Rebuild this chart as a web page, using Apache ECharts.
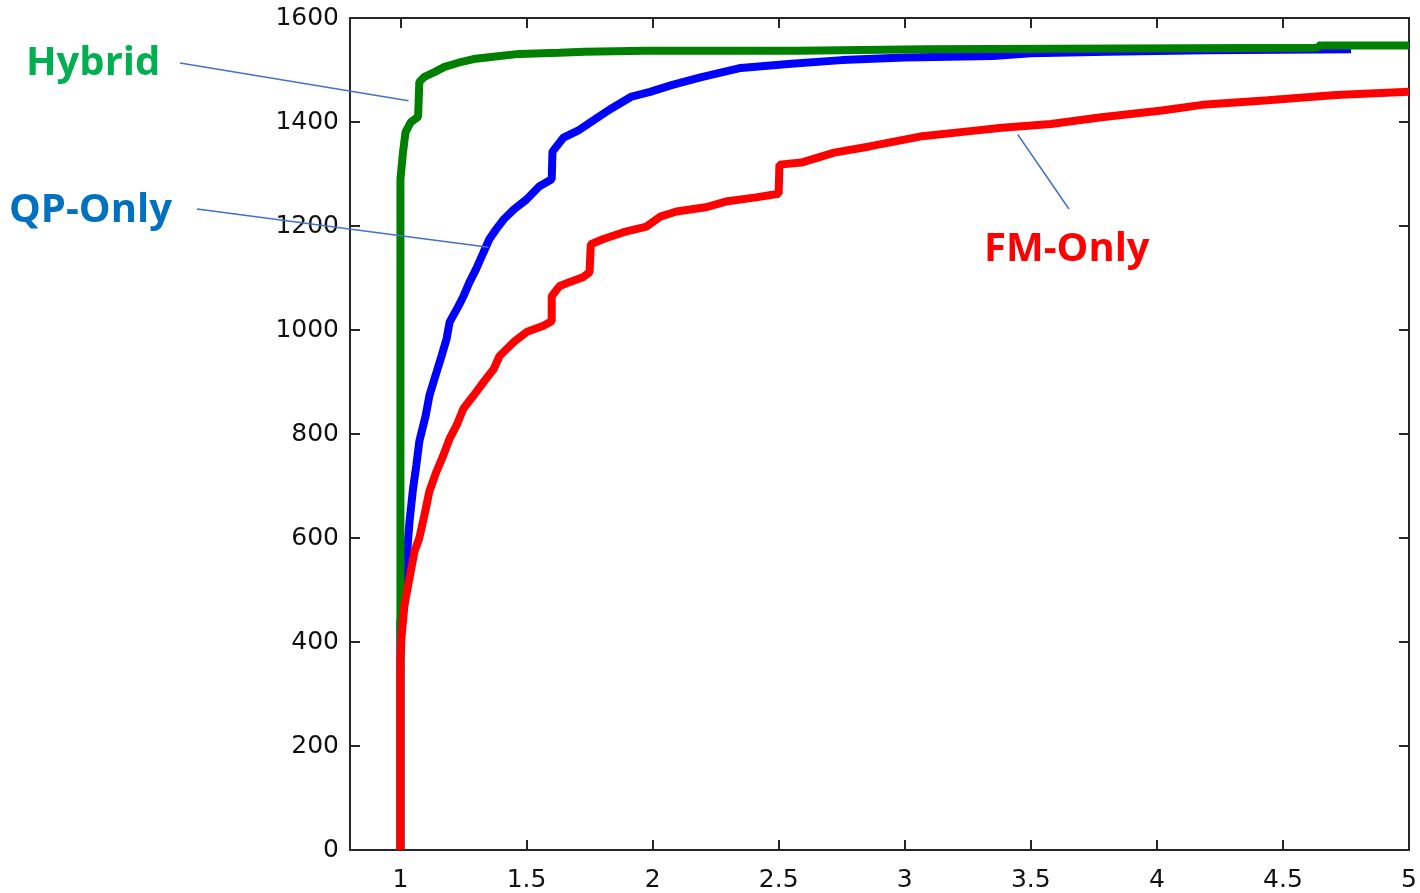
<!DOCTYPE html>
<html>
<head>
<meta charset="utf-8">
<title>Performance profile</title>
<script src="https://cdn.jsdelivr.net/npm/echarts@6/dist/echarts.min.js"></script>
<style>
  html, body { margin: 0; padding: 0; background: #fff; }
  #chart { width: 1420px; height: 893px; }
</style>
</head>
<body>
<div id="chart"></div>
<script>
// Axis ranges and tick positions
const xMin = 0.8, xMax = 5;
const xTicks = [1, 1.5, 2, 2.5, 3, 3.5, 4, 4.5, 5];
const yTicks = [0, 200, 400, 600, 800, 1000, 1200, 1400, 1600];

// Cumulative number of problems solved within a given performance ratio
const qpOnly = [
  [1, 0], [1, 440], [1.015, 470], [1.024, 556], [1.036, 632], [1.05, 695], [1.063, 740],
  [1.075, 786], [1.10, 835], [1.115, 874], [1.135, 906], [1.163, 950], [1.183, 983],
  [1.195, 1015], [1.23, 1046], [1.25, 1065], [1.274, 1092], [1.30, 1117], [1.33, 1150],
  [1.353, 1175], [1.38, 1194], [1.41, 1213], [1.45, 1232], [1.50, 1251], [1.55, 1276],
  [1.60, 1290], [1.603, 1343], [1.647, 1370], [1.71, 1385], [1.78, 1408], [1.83, 1424],
  [1.917, 1449], [1.99, 1458], [2.075, 1471], [2.19, 1486], [2.35, 1504], [2.55, 1512],
  [2.75, 1519], [3.0, 1524], [3.35, 1527], [3.5, 1532], [3.8, 1535], [4.2, 1538], [4.77, 1540]
];

const hybrid = [
  [1, 0], [1, 1290], [1.01, 1341], [1.02, 1380], [1.04, 1399], [1.07, 1410], [1.075, 1412],
  [1.075, 1477], [1.095, 1487], [1.135, 1496], [1.175, 1506], [1.23, 1514], [1.29, 1521],
  [1.36, 1525], [1.47, 1531], [1.63, 1533], [1.73, 1535], [1.97, 1537], [2.58, 1537],
  [2.58, 1540], [3.08, 1540], [3.08, 1543], [4.64, 1543], [4.64, 1547], [5, 1547]
];

const fmOnly = [
  [1, 0], [1, 364], [1.004, 408], [1.016, 471], [1.036, 523], [1.056, 575], [1.075, 600],
  [1.095, 644], [1.115, 690], [1.143, 728], [1.17, 759], [1.195, 791], [1.222, 816],
  [1.25, 849], [1.29, 874], [1.33, 900], [1.37, 925], [1.393, 950], [1.45, 977], [1.50, 996],
  [1.567, 1008], [1.60, 1017], [1.60, 1065], [1.63, 1084], [1.67, 1092], [1.726, 1102],
  [1.75, 1111], [1.755, 1165], [1.805, 1175], [1.885, 1188], [1.976, 1199], [2.03, 1218],
  [2.095, 1228], [2.21, 1236], [2.29, 1247], [2.41, 1255], [2.50, 1262], [2.503, 1318],
  [2.59, 1322], [2.72, 1341], [2.86, 1353], [3.06, 1372], [3.25, 1382], [3.385, 1389],
  [3.58, 1396], [3.78, 1409], [4.02, 1422], [4.18, 1433], [4.44, 1442], [4.71, 1452], [5.0, 1458]
];

// Callout labels: text, colour, label anchor (px) and the curve point the leader line touches
const callouts = [
  { text: 'Hybrid',  color: '#00b050', labelX: 26,  labelY: 64,  lineFrom: [180, 63],  tip: [1.032, 1441] },
  { text: 'QP-Only', color: '#0070c0', labelX: 9,   labelY: 211, lineFrom: [197, 209], tip: [1.349, 1159] },
  { text: 'FM-Only', color: '#ff0000', labelX: 984, labelY: 250, lineFrom: [1069, 209], tip: [3.448, 1376] }
];

const chart = echarts.init(document.getElementById('chart'), null, { renderer: 'canvas' });

const axisColor = '#262626';
const axisLine = { show: true, onZero: false, lineStyle: { color: axisColor, width: 2 } };
const tickStyle = { color: axisColor, width: 2 };
const labelFont = { color: '#111', fontFamily: 'DejaVu Sans', fontSize: 25 };
const plain = v => String(v);
const TICK_LEN = 10;
const innerTick = { show: true, inside: true, length: TICK_LEN, lineStyle: tickStyle };

const option = {
  animation: false,
  backgroundColor: '#ffffff',
  grid: { left: 350, right: 10, top: 18, bottom: 40, containLabel: false },
  xAxis: [
    {
      type: 'value', min: xMin, max: xMax, position: 'bottom',
      axisLine: axisLine,
      axisTick: Object.assign({ customValues: xTicks }, innerTick),
      axisLabel: Object.assign({ margin: 18, customValues: xTicks, formatter: plain }, labelFont),
      splitLine: { show: false }
    },
    {
      type: 'value', min: xMin, max: xMax, position: 'top',
      axisLine: axisLine,
      axisTick: Object.assign({ customValues: xTicks }, innerTick),
      axisLabel: { show: false },
      splitLine: { show: false }
    }
  ],
  yAxis: [
    {
      type: 'value', min: 0, max: 1600, interval: 200, position: 'left',
      axisLine: axisLine,
      axisTick: { show: false },
      axisLabel: Object.assign({ margin: 11, formatter: plain }, labelFont),
      splitLine: { show: false }
    },
    {
      type: 'value', min: 0, max: 1600, interval: 200, position: 'right',
      axisLine: axisLine,
      axisTick: innerTick,
      axisLabel: { show: false },
      splitLine: { show: false }
    }
  ],
  series: [
    { name: 'QP-Only', type: 'line', data: qpOnly, showSymbol: false, z: 2,
      lineStyle: { color: '#0000ff', width: 8 } },
    { name: 'Hybrid', type: 'line', data: hybrid, showSymbol: false, z: 3,
      lineStyle: { color: '#008000', width: 8 } },
    { name: 'FM-Only', type: 'line', data: fmOnly, showSymbol: false, z: 4,
      lineStyle: { color: '#ff0000', width: 8 } },
    {
      // inward tick marks along the left axis
      name: 'leftTicks', type: 'custom', z: 5, silent: true, clip: false,
      data: yTicks.map(v => [xMin, v]),
      renderItem: (params, api) => {
        const p = api.coord([api.value(0), api.value(1)]);
        return {
          type: 'line',
          shape: { x1: p[0], y1: p[1], x2: p[0] + TICK_LEN, y2: p[1] },
          style: { stroke: axisColor, lineWidth: 2 }
        };
      }
    }
  ]
};

chart.setOption(option);

// Callout texts and their leader lines
const graphics = [];
callouts.forEach(c => {
  const tipPx = chart.convertToPixel({ xAxisIndex: 0, yAxisIndex: 0 }, c.tip);
  graphics.push({
    type: 'line', silent: true, z: 10,
    shape: { x1: c.lineFrom[0], y1: c.lineFrom[1], x2: tipPx[0], y2: tipPx[1] },
    style: { stroke: '#4472c4', lineWidth: 1.5 }
  });
  graphics.push({
    type: 'text', silent: true, z: 10, x: c.labelX, y: c.labelY,
    style: {
      text: c.text, fill: c.color,
      font: 'bold 40px "Open Sans"',
      verticalAlign: 'middle', align: 'left'
    }
  });
});
chart.setOption({ graphic: graphics });
</script>
</body>
</html>
